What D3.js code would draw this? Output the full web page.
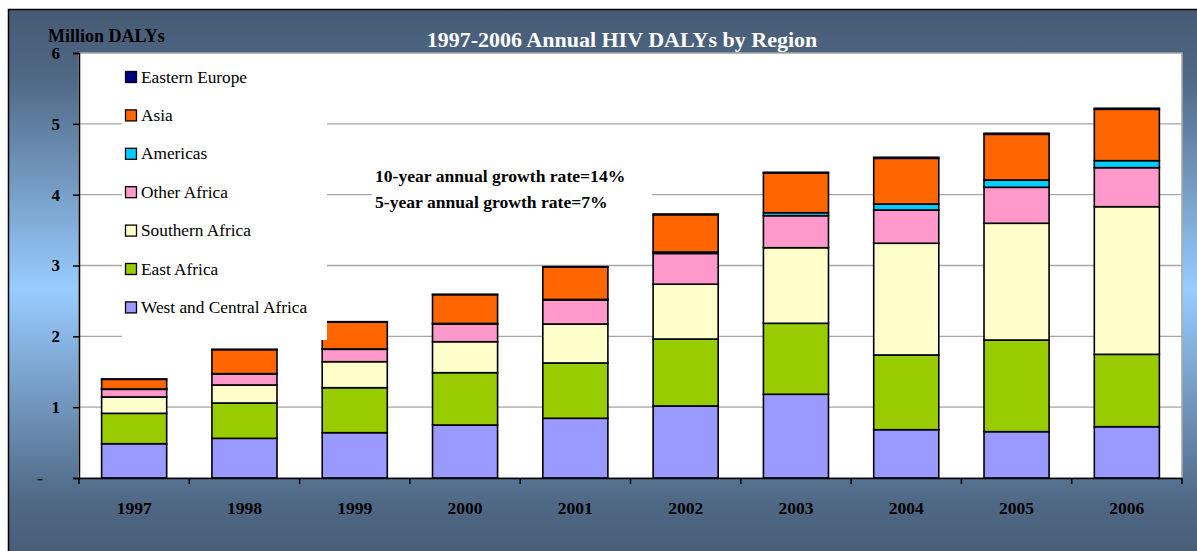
<!DOCTYPE html>
<html>
<head>
<meta charset="utf-8">
<script src="https://cdn.jsdelivr.net/npm/d3@7"></script>
<style>
  html, body { margin: 0; padding: 0; background: #ffffff; }
  svg { display: block; }
  text { font-family: "Liberation Serif", "Times New Roman", serif; }
</style>
</head>
<body>
<svg id="chart" width="1197" height="551"></svg>
<script>
// ---- Data (million DALYs) ----
const years = ["1997", "1998", "1999", "2000", "2001", "2002", "2003", "2004", "2005", "2006"];
const westCentralAfrica = [0.484, 0.560, 0.640, 0.748, 0.843, 1.017, 1.182, 0.682, 0.654, 0.724];
const eastAfrica        = [0.429, 0.499, 0.635, 0.739, 0.781, 0.945, 1.002, 1.055, 1.294, 1.022];
const southernAfrica    = [0.231, 0.254, 0.367, 0.437, 0.550, 0.774, 1.067, 1.577, 1.648, 2.084];
const otherAfrica       = [0.108, 0.155, 0.175, 0.250, 0.339, 0.434, 0.452, 0.470, 0.508, 0.551];
const americas          = [0.005, 0.005, 0.005, 0.008, 0.008, 0.020, 0.042, 0.084, 0.103, 0.099];
const asia              = [0.136, 0.339, 0.380, 0.406, 0.455, 0.527, 0.561, 0.645, 0.645, 0.725];
const easternEurope     = [0.005, 0.005, 0.005, 0.006, 0.007, 0.010, 0.010, 0.015, 0.015, 0.015];
const yTicks = [0, 1, 2, 3, 4, 5, 6];
const yTickLabels = ["-", "1", "2", "3", "4", "5", "6"];
const seriesNames = ["West and Central Africa", "East Africa", "Southern Africa", "Other Africa", "Americas", "Asia", "Eastern Europe"];
const seriesColors = ["#9999FF", "#99CC00", "#FFFFCC", "#FF99CC", "#00CCFF", "#FF6600", "#000080"];
const seriesValues = [westCentralAfrica, eastAfrica, southernAfrica, otherAfrica, americas, asia, easternEurope];
const titleText = "1997-2006 Annual HIV DALYs by Region";
const yAxisTitle = "Million DALYs";
const notes = ["10-year annual growth rate=14%", "5-year annual growth rate=7%"];

// ---- Build table ----
const keys = seriesNames;
const table = years.map((y, i) => {
  const row = { year: y };
  keys.forEach((k, j) => { row[k] = seriesValues[j][i]; });
  return row;
});
const stacked = d3.stack().keys(keys)(table);
const color = d3.scaleOrdinal().domain(keys).range(seriesColors);

// ---- Layout ----
const svg = d3.select("#chart");
const plot = { left: 79, right: 1182, top: 53, bottom: 478 };

const x = d3.scaleBand().domain(years).range([plot.left, plot.right]).paddingInner(0.41).paddingOuter(0.205);
const y = d3.scaleLinear().domain([0, 6]).range([plot.bottom, plot.top]);

// background gradient frame
const defs = svg.append("defs");
const grad = defs.append("linearGradient").attr("id", "bg").attr("x1", 0).attr("y1", 0).attr("x2", 0).attr("y2", 1);
grad.append("stop").attr("offset", "0%").attr("stop-color", "#465a74");
grad.append("stop").attr("offset", "12%").attr("stop-color", "#4f6885");
grad.append("stop").attr("offset", "50%").attr("stop-color", "#99ccff");
grad.append("stop").attr("offset", "88%").attr("stop-color", "#4f6885");
grad.append("stop").attr("offset", "100%").attr("stop-color", "#465a74");

svg.append("rect").attr("x", 8.5).attr("y", 9.5).attr("width", 1197).attr("height", 560)
  .attr("fill", "url(#bg)").attr("stroke", "#000").attr("stroke-width", 1.5);

// plot area
svg.append("rect").attr("x", plot.left).attr("y", plot.top)
  .attr("width", plot.right - plot.left).attr("height", plot.bottom - plot.top)
  .attr("fill", "#ffffff").attr("stroke", "#a6a6a6").attr("stroke-width", 1.5);

// gridlines
svg.append("g").selectAll("line").data(yTicks.filter(t => t > 0 && t < 6)).join("line")
  .attr("x1", plot.left).attr("x2", plot.right)
  .attr("y1", d => y(d)).attr("y2", d => y(d))
  .attr("stroke", "#a6a6a6").attr("stroke-width", 1.3);

// bars
const layers = svg.append("g").selectAll("g").data(stacked).join("g")
  .attr("fill", d => color(d.key));
layers.selectAll("rect").data(d => d).join("rect")
  .attr("x", d => x(d.data.year))
  .attr("width", x.bandwidth())
  .attr("y", d => y(d[1]))
  .attr("height", d => y(d[0]) - y(d[1]))
  .attr("stroke", "#000").attr("stroke-width", 1.6);

// legend box (white, covers gridlines & part of a bar)
svg.append("rect").attr("x", 122).attr("y", 60).attr("width", 205).attr("height", 280).attr("fill", "#ffffff");
const legendOrder = keys.slice().reverse();
const lg = svg.append("g").selectAll("g").data(legendOrder).join("g")
  .attr("transform", (d, i) => `translate(125, ${77 + i * 38.4})`);
lg.append("rect").attr("x", 0.5).attr("y", -5.5).attr("width", 11).attr("height", 11)
  .attr("fill", d => color(d)).attr("stroke", "#000").attr("stroke-width", 1.3);
lg.append("text").attr("x", 16).attr("y", 5.5).attr("font-size", "17.3px").attr("fill", "#000").text(d => d);

// annotation box
svg.append("rect").attr("x", 372).attr("y", 162).attr("width", 280).attr("height", 56).attr("fill", "#ffffff");
svg.append("g").selectAll("text").data(notes).join("text")
  .attr("x", 375).attr("y", (d, i) => 182 + i * 25.5)
  .attr("font-size", "17.6px").attr("font-weight", "bold").attr("fill", "#000").text(d => d);

// y axis
const yAxis = svg.append("g").attr("transform", `translate(${plot.left},0)`)
  .call(d3.axisLeft(y).tickValues(yTicks).tickSize(6).tickPadding(13)
    .tickFormat((d, i) => yTickLabels[i]));
yAxis.select(".domain").attr("stroke", "#000").attr("stroke-width", 1.5);
yAxis.selectAll(".tick line").attr("stroke", "#000").attr("stroke-width", 1.5);
yAxis.selectAll(".tick text").attr("font-family", "Liberation Serif, serif").attr("font-size", "17px")
  .attr("font-weight", "bold").attr("fill", "#000");
yAxis.selectAll(".tick text").filter(d => d === 0).attr("x", -36);

// x axis
const xAxis = svg.append("g").attr("transform", `translate(0,${plot.bottom})`)
  .call(d3.axisBottom(x).tickSize(0).tickPadding(24));
xAxis.select(".domain").attr("stroke", "#000").attr("stroke-width", 1.5);
xAxis.selectAll(".tick text").attr("font-family", "Liberation Serif, serif").attr("font-size", "17.5px")
  .attr("font-weight", "bold").attr("fill", "#000");
// category boundary ticks
xAxis.append("g").selectAll("line").data(d3.range(years.length + 1)).join("line")
  .attr("x1", i => plot.left + i * x.step()).attr("x2", i => plot.left + i * x.step())
  .attr("y1", 0).attr("y2", 6).attr("stroke", "#000").attr("stroke-width", 1.5);

// titles
svg.append("text").attr("x", 622).attr("y", 47).attr("text-anchor", "middle")
  .attr("font-size", "22px").attr("font-weight", "bold").attr("fill", "#ffffff").text(titleText);
svg.append("text").attr("x", 48).attr("y", 42)
  .attr("font-size", "18px").attr("font-weight", "bold").attr("fill", "#000").text(yAxisTitle);
</script>
</body>
</html>
